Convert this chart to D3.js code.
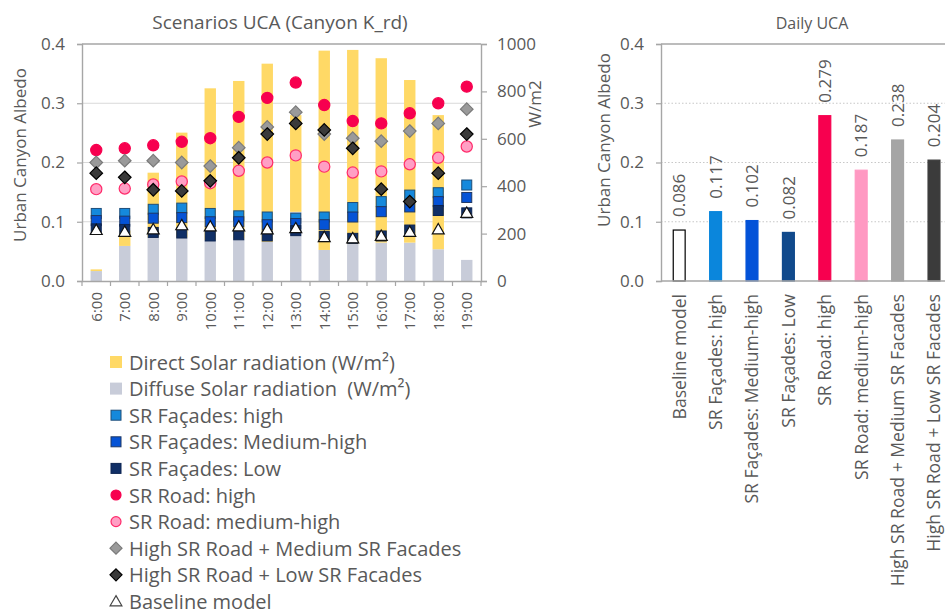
<!DOCTYPE html>
<html>
<head>
<meta charset="utf-8">
<script src="https://cdn.jsdelivr.net/npm/d3@7"></script>
<style>
  body { margin: 0; background: #fff; }
  svg text { font-family: "Open Sans", sans-serif; fill: #595959; }
</style>
</head>
<body>
<svg id="chart" width="945" height="614"></svg>
<script>
// ---- hourly data (Canyon K_rd) ----
const hours = ["6:00","7:00","8:00","9:00","10:00","11:00","12:00","13:00","14:00","15:00","16:00","17:00","18:00","19:00"];
const diffuseRad = [42, 148, 184, 184, 173, 180, 165, 292, 131, 156, 162, 162, 134, 89];
const directRad  = [7, 65, 273, 442, 640, 664, 752, 408, 841, 819, 778, 686, 566, 0];
const facadesHigh   = [0.114, 0.114, 0.121, 0.123, 0.114, 0.110, 0.108, 0.106, 0.108, 0.124, 0.134, 0.145, 0.149, 0.162];
const facadesMedium = [0.102, 0.101, 0.106, 0.107, 0.100, 0.100, 0.095, 0.097, 0.095, 0.108, 0.117, 0.125, 0.134, 0.141];
const facadesLow    = [0.088, 0.087, 0.082, 0.081, 0.076, 0.078, 0.076, 0.085, 0.075, 0.072, 0.076, 0.086, 0.119, 0.115];
const roadHigh      = [0.221, 0.224, 0.229, 0.235, 0.241, 0.277, 0.309, 0.335, 0.297, 0.270, 0.266, 0.283, 0.300, 0.328];
const roadMedium    = [0.155, 0.156, 0.163, 0.168, 0.165, 0.186, 0.200, 0.212, 0.193, 0.183, 0.185, 0.197, 0.208, 0.227];
const roadHighFacMed = [0.200, 0.203, 0.203, 0.200, 0.194, 0.225, 0.260, 0.285, 0.248, 0.241, 0.236, 0.253, 0.266, 0.290];
const roadHighFacLow = [0.182, 0.175, 0.154, 0.152, 0.169, 0.208, 0.248, 0.266, 0.255, 0.224, 0.155, 0.134, 0.182, 0.248];
const baselineModel  = [0.086, 0.083, 0.087, 0.094, 0.092, 0.092, 0.087, 0.089, 0.074, 0.072, 0.076, 0.083, 0.087, 0.115];
const albedoTicks = [0, 0.1, 0.2, 0.3, 0.4];
const radTicks = [0, 200, 400, 600, 800, 1000];

// ---- daily data ----
const scenarios = ["Baseline model","SR Façades: high","SR Façades: Medium-high","SR Façades: Low","SR Road: high","SR Road: medium-high","High SR Road + Medium SR Facades","High SR Road + Low SR Facades"];
const dailyUCA = [0.086, 0.117, 0.102, 0.082, 0.279, 0.187, 0.238, 0.204];
const dailyFill = ["#ffffff","#0a86dc","#0352d8","#114a8c","#f7004f","#ff99c2","#a5a5a5","#3b3b3b"];
const dailyStroke = ["#000000","#0a86dc","#0352d8","#114a8c","#f7004f","#ff99c2","#a5a5a5","#3b3b3b"];

const svg = d3.select("#chart");
const axisGrey = "#a6a6a6", gridGrey = "#d9d9d9";

// ================= Left chart =================
const L = { left: 82, right: 481, top: 44, bottom: 281 };
const x = d3.scaleBand().domain(hours).range([L.left, L.right]).paddingInner(0.6).paddingOuter(0.3);
const yA = d3.scaleLinear().domain([0, 0.4]).range([L.bottom, L.top]);
const yR = d3.scaleLinear().domain([0, 1000]).range([L.bottom, L.top]);

const gl = svg.append("g");
// gridlines
gl.selectAll("line.grid").data([0.1, 0.2, 0.3]).join("line")
  .attr("x1", L.left).attr("x2", L.right).attr("y1", d => yA(d)).attr("y2", d => yA(d))
  .attr("stroke", gridGrey).attr("stroke-width", 1.2);
gl.append("line").attr("x1", L.left).attr("x2", L.right).attr("y1", yA(0.4)).attr("y2", yA(0.4))
  .attr("stroke", axisGrey).attr("stroke-width", 1.4);

// stacked radiation bars
const stackRows = hours.map((h, i) => ({ hour: h, diffuse: diffuseRad[i], direct: directRad[i] }));
const stacked = d3.stack().keys(["diffuse", "direct"])(stackRows);
const barColor = { diffuse: "#c8ccd9", direct: "#ffd966" };
gl.selectAll("g.layer").data(stacked).join("g")
  .attr("fill", d => barColor[d.key])
  .selectAll("rect").data(d => d).join("rect")
  .attr("x", d => x(d.data.hour)).attr("width", x.bandwidth())
  .attr("y", d => yR(d[1])).attr("height", d => yR(d[0]) - yR(d[1]));

// axes
function styleAxis(g) {
  g.select(".domain").attr("stroke", axisGrey).attr("stroke-width", 1.4);
  g.selectAll(".tick line").attr("stroke", axisGrey).attr("stroke-width", 1.2);
  g.selectAll("text").style("font-size", "17px").attr("fill", "#595959");
}
gl.append("g").attr("transform", `translate(${L.left},0)`)
  .call(d3.axisLeft(yA).tickValues(albedoTicks).tickFormat(d3.format(".1f")).tickSize(5).tickPadding(12))
  .call(styleAxis);
gl.append("g").attr("transform", `translate(${L.right},0)`)
  .call(d3.axisRight(yR).tickValues(radTicks).tickFormat(d3.format("d")).tickSize(6).tickPadding(10))
  .call(styleAxis);
const xAxisL = gl.append("g").attr("transform", `translate(0,${L.bottom})`)
  .call(d3.axisBottom(x).tickSize(0).tickSizeOuter(0))
  .call(styleAxis);
xAxisL.selectAll("text").style("font-size", "15px")
  .attr("transform", "rotate(-90)").attr("x", -11).attr("y", 0).attr("dy", "0.35em")
  .style("text-anchor", "end");
// category boundary ticks
gl.selectAll("line.bt").data(hours.concat(["end"])).join("line")
  .attr("x1", (d, i) => L.left + i * x.step()).attr("x2", (d, i) => L.left + i * x.step())
  .attr("y1", L.bottom).attr("y2", L.bottom + 5).attr("stroke", axisGrey).attr("stroke-width", 1.2);

// albedo markers
const cx = i => x(hours[i]) + x.bandwidth() / 2;
function squares(data, fill, stroke) {
  gl.append("g").selectAll("rect").data(data).join("rect")
    .attr("x", (d, i) => cx(i) - 5).attr("y", d => yA(d) - 5)
    .attr("width", 10).attr("height", 10)
    .attr("fill", fill).attr("stroke", stroke).attr("stroke-width", 1);
}
function circles(data, fill, stroke) {
  gl.append("g").selectAll("circle").data(data).join("circle")
    .attr("cx", (d, i) => cx(i)).attr("cy", d => yA(d)).attr("r", 5.6)
    .attr("fill", fill).attr("stroke", stroke).attr("stroke-width", 1.2);
}
function diamonds(data, fill, stroke) {
  gl.append("g").selectAll("path").data(data).join("path")
    .attr("d", (d, i) => { const px = cx(i), py = yA(d), r = 6.3; return `M${px},${py - r}L${px + r},${py}L${px},${py + r}L${px - r},${py}Z`; })
    .attr("fill", fill).attr("stroke", stroke).attr("stroke-width", 1.2);
}
function triangles(data) {
  const tri = d3.symbol().type(d3.symbolTriangle).size(62);
  gl.append("g").selectAll("path").data(data).join("path")
    .attr("transform", (d, i) => `translate(${cx(i)},${yA(d) + 1})`)
    .attr("d", tri).attr("fill", "#ffffff").attr("stroke", "#111").attr("stroke-width", 1.2);
}
squares(facadesHigh, "#1589dc", "#1f4e79");
squares(facadesMedium, "#0553d6", "#1f3864");
squares(facadesLow, "#102f66", "#0d2552");
circles(roadHigh, "#f7004f", "#f7004f");
circles(roadMedium, "#ff9fc4", "#ff2a6a");
diamonds(roadHighFacMed, "#9a9a9a", "#7a7a7a");
diamonds(roadHighFacLow, "#3a3a3a", "#000000");
triangles(baselineModel);

// titles
svg.append("text").attr("x", 280).attr("y", 29).attr("text-anchor", "middle")
  .style("font-size", "19px").text("Scenarios UCA (Canyon K_rd)");
svg.append("text").attr("transform", "translate(26,155) rotate(-90)").attr("text-anchor", "middle")
  .style("font-size", "17px").text("Urban Canyon Albedo");
svg.append("text").attr("transform", "translate(541,104) rotate(-90)").attr("text-anchor", "middle")
  .style("font-size", "17px").text("W/m2");

// legend
const legendItems = [
  { name: "Direct Solar radiation (W/m²)", kind: "bar", fill: "#ffd966" },
  { name: "Diffuse Solar radiation  (W/m²)", kind: "bar", fill: "#c8ccd9" },
  { name: "SR Façades: high", kind: "square", fill: "#1589dc", stroke: "#1f4e79" },
  { name: "SR Façades: Medium-high", kind: "square", fill: "#0553d6", stroke: "#1f3864" },
  { name: "SR Façades: Low", kind: "square", fill: "#102f66", stroke: "#0d2552" },
  { name: "SR Road: high", kind: "circle", fill: "#f7004f", stroke: "#f7004f" },
  { name: "SR Road: medium-high", kind: "circle", fill: "#ff9fc4", stroke: "#ff2a6a" },
  { name: "High SR Road + Medium SR Facades", kind: "diamond", fill: "#9a9a9a", stroke: "#7a7a7a" },
  { name: "High SR Road + Low SR Facades", kind: "diamond", fill: "#3a3a3a", stroke: "#000" },
  { name: "Baseline model", kind: "triangle", fill: "#fff", stroke: "#444" }
];
const lg = svg.append("g").selectAll("g").data(legendItems).join("g")
  .attr("transform", (d, i) => `translate(116,${369.5 + i * 26.6})`);
lg.each(function (d) {
  const g = d3.select(this);
  const my = -7.5;
  if (d.kind === "bar") g.append("rect").attr("x", -6).attr("y", my - 6).attr("width", 12).attr("height", 12).attr("fill", d.fill);
  if (d.kind === "square") g.append("rect").attr("x", -5).attr("y", my - 5).attr("width", 10).attr("height", 10).attr("fill", d.fill).attr("stroke", d.stroke);
  if (d.kind === "circle") g.append("circle").attr("cx", 0).attr("cy", my).attr("r", 5).attr("fill", d.fill).attr("stroke", d.stroke).attr("stroke-width", 1.2);
  if (d.kind === "diamond") g.append("path").attr("d", `M0,${my - 6}L6,${my}L0,${my + 6}L-6,${my}Z`).attr("fill", d.fill).attr("stroke", d.stroke).attr("stroke-width", 1.2);
  if (d.kind === "triangle") g.append("path").attr("transform", `translate(0,${my + 1})`).attr("d", d3.symbol().type(d3.symbolTriangle).size(60)()).attr("fill", d.fill).attr("stroke", d.stroke).attr("stroke-width", 1.2);
  g.append("text").attr("x", 13).attr("y", 0).style("font-size", "20px").style("white-space", "pre").text(d.name);
});

// ================= Right chart =================
const R = { left: 661, top: 44, bottom: 281 };
const xd = d3.scaleBand().domain(scenarios).range([R.left, R.left + 8 * 36.4]).paddingInner(0.64).paddingOuter(0.32);
const yd = d3.scaleLinear().domain([0, 0.4]).range([R.bottom, R.top]);
const gr = svg.append("g");
gr.selectAll("line.grid").data([0.1, 0.2, 0.3]).join("line")
  .attr("x1", R.left).attr("x2", 945).attr("y1", d => yd(d)).attr("y2", d => yd(d))
  .attr("stroke", "#c8c8c8").attr("stroke-width", 1.2).attr("stroke-dasharray", "1.5,2");
gr.append("line").attr("x1", R.left).attr("x2", 945).attr("y1", yd(0.4)).attr("y2", yd(0.4))
  .attr("stroke", axisGrey).attr("stroke-width", 1.4);
gr.selectAll("rect.bar").data(dailyUCA).join("rect")
  .attr("x", (d, i) => xd(scenarios[i]) + 0.6).attr("width", xd.bandwidth() - 1.2)
  .attr("y", d => yd(d)).attr("height", d => yd(0) - yd(d))
  .attr("fill", (d, i) => dailyFill[i]).attr("stroke", (d, i) => dailyStroke[i]).attr("stroke-width", 1.2);
gr.append("g").attr("transform", `translate(${R.left},0)`)
  .call(d3.axisLeft(yd).tickValues(albedoTicks).tickFormat(d3.format(".1f")).tickSize(5).tickPadding(12))
  .call(styleAxis);
const xAxisR = gr.append("g").attr("transform", `translate(0,${R.bottom})`)
  .call(d3.axisBottom(xd).tickSize(0).tickSizeOuter(0))
  .call(styleAxis);
xAxisR.select(".domain").attr("d", `M${R.left},0H945`);
xAxisR.selectAll("text").style("font-size", "17.6px")
  .attr("transform", "rotate(-90)").attr("x", -13).attr("y", 0).attr("dy", "0.36em")
  .style("text-anchor", "end");
// value labels
gr.selectAll("text.val").data(dailyUCA).join("text")
  .attr("transform", (d, i) => `translate(${xd(scenarios[i]) + xd.bandwidth() / 2},${yd(d) - 13}) rotate(-90)`)
  .attr("dy", "0.36em").style("font-size", "17px")
  .text(d => d3.format(".3f")(d));
svg.append("text").attr("x", 812).attr("y", 29).attr("text-anchor", "middle")
  .style("font-size", "16px").text("Daily UCA");
svg.append("text").attr("transform", "translate(610,140) rotate(-90)").attr("text-anchor", "middle")
  .style("font-size", "17px").text("Urban Canyon Albedo");
</script>
</body>
</html>
